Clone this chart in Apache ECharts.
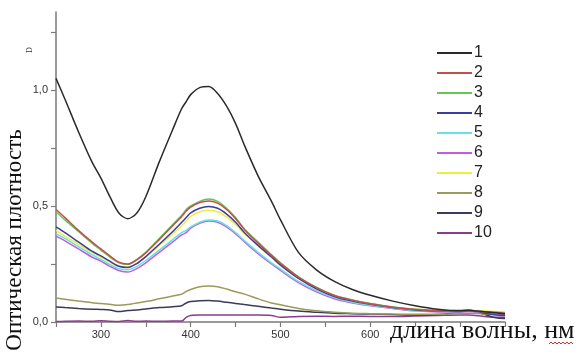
<!DOCTYPE html>
<html>
<head>
<meta charset="utf-8">
<script src="https://cdn.jsdelivr.net/npm/echarts@6/dist/echarts.min.js"></script>
<style>
  html, body { margin: 0; padding: 0; background: #fff; }
  #chart { width: 578px; height: 353px; }
</style>
</head>
<body>
<div id="chart"></div>
<script>
// wavelength, nm
const wavelengths = [250, 260, 275, 290, 300, 310, 320, 330, 340, 350, 365, 380, 390, 395, 400, 410, 420, 430, 440, 450, 460, 475, 490, 500, 520, 540, 560, 580, 600, 625, 650, 675, 700, 710, 725, 740, 750];

const seriesNames = ['1', '2', '3', '4', '5', '6', '7', '8', '9', '10'];
const seriesColors = ['#2a2a2a', '#c0504d', '#62c855', '#3c3c9c', '#66e0e8', '#c060d8', '#eeee3c', '#9a9a5a', '#3a3a5c', '#8c3c8c'];

const d1 = [1.05, 0.96, 0.82, 0.69, 0.62, 0.54, 0.47, 0.445, 0.47, 0.54, 0.69, 0.83, 0.92, 0.95, 0.98, 1.01, 1.015, 0.985, 0.93, 0.855, 0.76, 0.63, 0.52, 0.44, 0.30, 0.225, 0.175, 0.14, 0.115, 0.09, 0.07, 0.055, 0.048, 0.05, 0.045, 0.04, 0.035];
const d2 = [0.485, 0.45, 0.395, 0.345, 0.315, 0.285, 0.258, 0.25, 0.268, 0.298, 0.355, 0.415, 0.455, 0.478, 0.495, 0.515, 0.522, 0.512, 0.485, 0.445, 0.398, 0.34, 0.287, 0.253, 0.193, 0.148, 0.114, 0.094, 0.079, 0.064, 0.054, 0.049, 0.047, 0.049, 0.044, 0.041, 0.038];
const d3 = [0.475, 0.44, 0.39, 0.34, 0.31, 0.28, 0.255, 0.248, 0.27, 0.30, 0.36, 0.42, 0.46, 0.485, 0.50, 0.52, 0.53, 0.52, 0.49, 0.45, 0.40, 0.345, 0.29, 0.255, 0.195, 0.15, 0.115, 0.095, 0.08, 0.065, 0.055, 0.05, 0.048, 0.05, 0.045, 0.042, 0.04];
const d4 = [0.41, 0.385, 0.345, 0.305, 0.285, 0.262, 0.24, 0.235, 0.252, 0.282, 0.335, 0.39, 0.43, 0.45, 0.47, 0.49, 0.498, 0.49, 0.465, 0.43, 0.385, 0.33, 0.28, 0.245, 0.188, 0.143, 0.11, 0.09, 0.076, 0.062, 0.052, 0.047, 0.05, 0.052, 0.04, 0.03, 0.028];
const d5 = [0.38, 0.36, 0.325, 0.29, 0.27, 0.248, 0.23, 0.225, 0.24, 0.265, 0.31, 0.355, 0.385, 0.395, 0.41, 0.43, 0.44, 0.435, 0.415, 0.385, 0.35, 0.30, 0.255, 0.228, 0.175, 0.135, 0.105, 0.085, 0.072, 0.06, 0.05, 0.045, 0.045, 0.048, 0.042, 0.04, 0.038];
const d6 = [0.37, 0.35, 0.315, 0.28, 0.262, 0.24, 0.222, 0.215, 0.23, 0.255, 0.30, 0.345, 0.375, 0.385, 0.405, 0.425, 0.435, 0.43, 0.41, 0.38, 0.345, 0.295, 0.25, 0.222, 0.17, 0.13, 0.10, 0.082, 0.07, 0.058, 0.048, 0.043, 0.043, 0.045, 0.04, 0.036, 0.034];
const d7 = [0.395, 0.37, 0.335, 0.30, 0.28, 0.258, 0.24, 0.237, 0.252, 0.28, 0.33, 0.38, 0.415, 0.435, 0.455, 0.475, 0.482, 0.475, 0.452, 0.42, 0.38, 0.328, 0.278, 0.245, 0.188, 0.145, 0.112, 0.092, 0.078, 0.064, 0.055, 0.05, 0.05, 0.052, 0.048, 0.045, 0.043];
const d8 = [0.103, 0.098, 0.09, 0.083, 0.08, 0.076, 0.072, 0.075, 0.082, 0.088, 0.10, 0.112, 0.12, 0.132, 0.14, 0.152, 0.155, 0.152, 0.142, 0.13, 0.12, 0.10, 0.082, 0.074, 0.058, 0.048, 0.042, 0.038, 0.036, 0.034, 0.033, 0.033, 0.036, 0.038, 0.035, 0.033, 0.032];
const d9 = [0.065, 0.062, 0.058, 0.055, 0.054, 0.052, 0.045, 0.05, 0.052, 0.056, 0.062, 0.066, 0.07, 0.082, 0.088, 0.092, 0.093, 0.09, 0.085, 0.08, 0.075, 0.068, 0.06, 0.055, 0.047, 0.042, 0.038, 0.036, 0.034, 0.032, 0.03, 0.032, 0.042, 0.05, 0.035, 0.018, 0.015];
const d10 = [0.002, 0.003, 0.004, 0.003, 0.005, 0.003, 0.002, 0.006, 0.003, 0.004, 0.003, 0.004, 0.004, 0.02, 0.028, 0.03, 0.03, 0.03, 0.03, 0.03, 0.03, 0.03, 0.028, 0.02, 0.024, 0.025, 0.024, 0.025, 0.024, 0.024, 0.026, 0.028, 0.03, 0.03, 0.025, 0.02, 0.02];

const seriesValues = [d1, d2, d3, d4, d5, d6, d7, d8, d9, d10];
const xTickLabels = ['300', '400', '500', '600'];

const chart = echarts.init(document.getElementById('chart'), null, { renderer: 'canvas' });

const series = seriesNames.map((name, i) => ({
  name: name,
  type: 'line',
  data: wavelengths.map((w, j) => [w, seriesValues[i][j]]),
  smooth: 0.3,
  symbol: 'none',
  lineStyle: { color: seriesColors[i], width: 1.5 },
  itemStyle: { color: seriesColors[i] },
  z: 10 - i
}));

const axisColor = '#7a7a7a';

const option = {
  animation: false,
  backgroundColor: '#fff',
  grid: { left: 56, right: 73, top: 12, bottom: 31 },
  xAxis: {
    type: 'value',
    min: 250,
    max: 750,
    interval: 50,
    axisLine: { show: true, lineStyle: { color: axisColor, width: 1.5 } },
    axisTick: { show: true, length: 5, lineStyle: { color: axisColor, width: 1.2 } },
    splitLine: { show: false },
    axisLabel: {
      margin: 7,
      color: '#333',
      fontFamily: 'Arial, "Liberation Sans", sans-serif',
      fontSize: 11,
      formatter: v => xTickLabels.includes(String(v)) ? String(v) : ''
    }
  },
  yAxis: {
    type: 'value',
    min: 0,
    max: 1.336,
    interval: 0.25,
    axisLine: { show: true, lineStyle: { color: axisColor, width: 1.5 } },
    axisTick: { show: true, length: 5, lineStyle: { color: axisColor, width: 1.2 } },
    splitLine: { show: false },
    axisLabel: {
      margin: 8,
      color: '#333',
      fontFamily: 'Arial, "Liberation Sans", sans-serif',
      fontSize: 11,
      showMaxLabel: false,
      formatter: v => (Math.abs(v * 2 - Math.round(v * 2)) < 1e-6) ? v.toFixed(1).replace('.', ',') : ''
    }
  },
  legend: {
    orient: 'vertical',
    left: 432,
    top: 40,
    icon: 'rect',
    itemWidth: 35,
    itemHeight: 2,
    itemGap: 4,
    textStyle: {
      color: '#222',
      fontFamily: 'Arial, "Liberation Sans", sans-serif',
      fontSize: 16,
      lineHeight: 16,
      padding: [0, 0, 0, -3]
    },
    data: seriesNames
  },
  graphic: [
    {
      type: 'text',
      x: 15,
      y: 240,
      rotation: Math.PI / 2,
      style: {
        text: 'Оптическая плотность',
        fill: '#111',
        font: '23px "Liberation Serif", "DejaVu Serif", serif',
        textAlign: 'center',
        textVerticalAlign: 'middle'
      }
    },
    {
      type: 'text',
      x: 30,
      y: 50,
      rotation: Math.PI / 2,
      style: {
        text: 'D',
        fill: '#333',
        font: '8px "Liberation Serif", serif',
        textAlign: 'center',
        textVerticalAlign: 'middle'
      }
    },
    {
      type: 'text',
      x: 390,
      y: 331,
      style: {
        text: 'длина волны, нм',
        fill: '#111',
        font: '26px "Liberation Serif", "DejaVu Serif", serif',
        textAlign: 'left',
        textVerticalAlign: 'middle'
      }
    },
    {
      type: 'polyline',
      shape: { points: [[549, 344], [551, 342], [553, 344], [555, 342], [557, 344], [559, 342], [561, 344], [563, 342], [565, 344], [567, 342], [569, 344], [571, 342], [573, 344]] },
      style: { stroke: '#d03030', lineWidth: 1, fill: null }
    }
  ],
  series: series
};

chart.setOption(option);
</script>
</body>
</html>
